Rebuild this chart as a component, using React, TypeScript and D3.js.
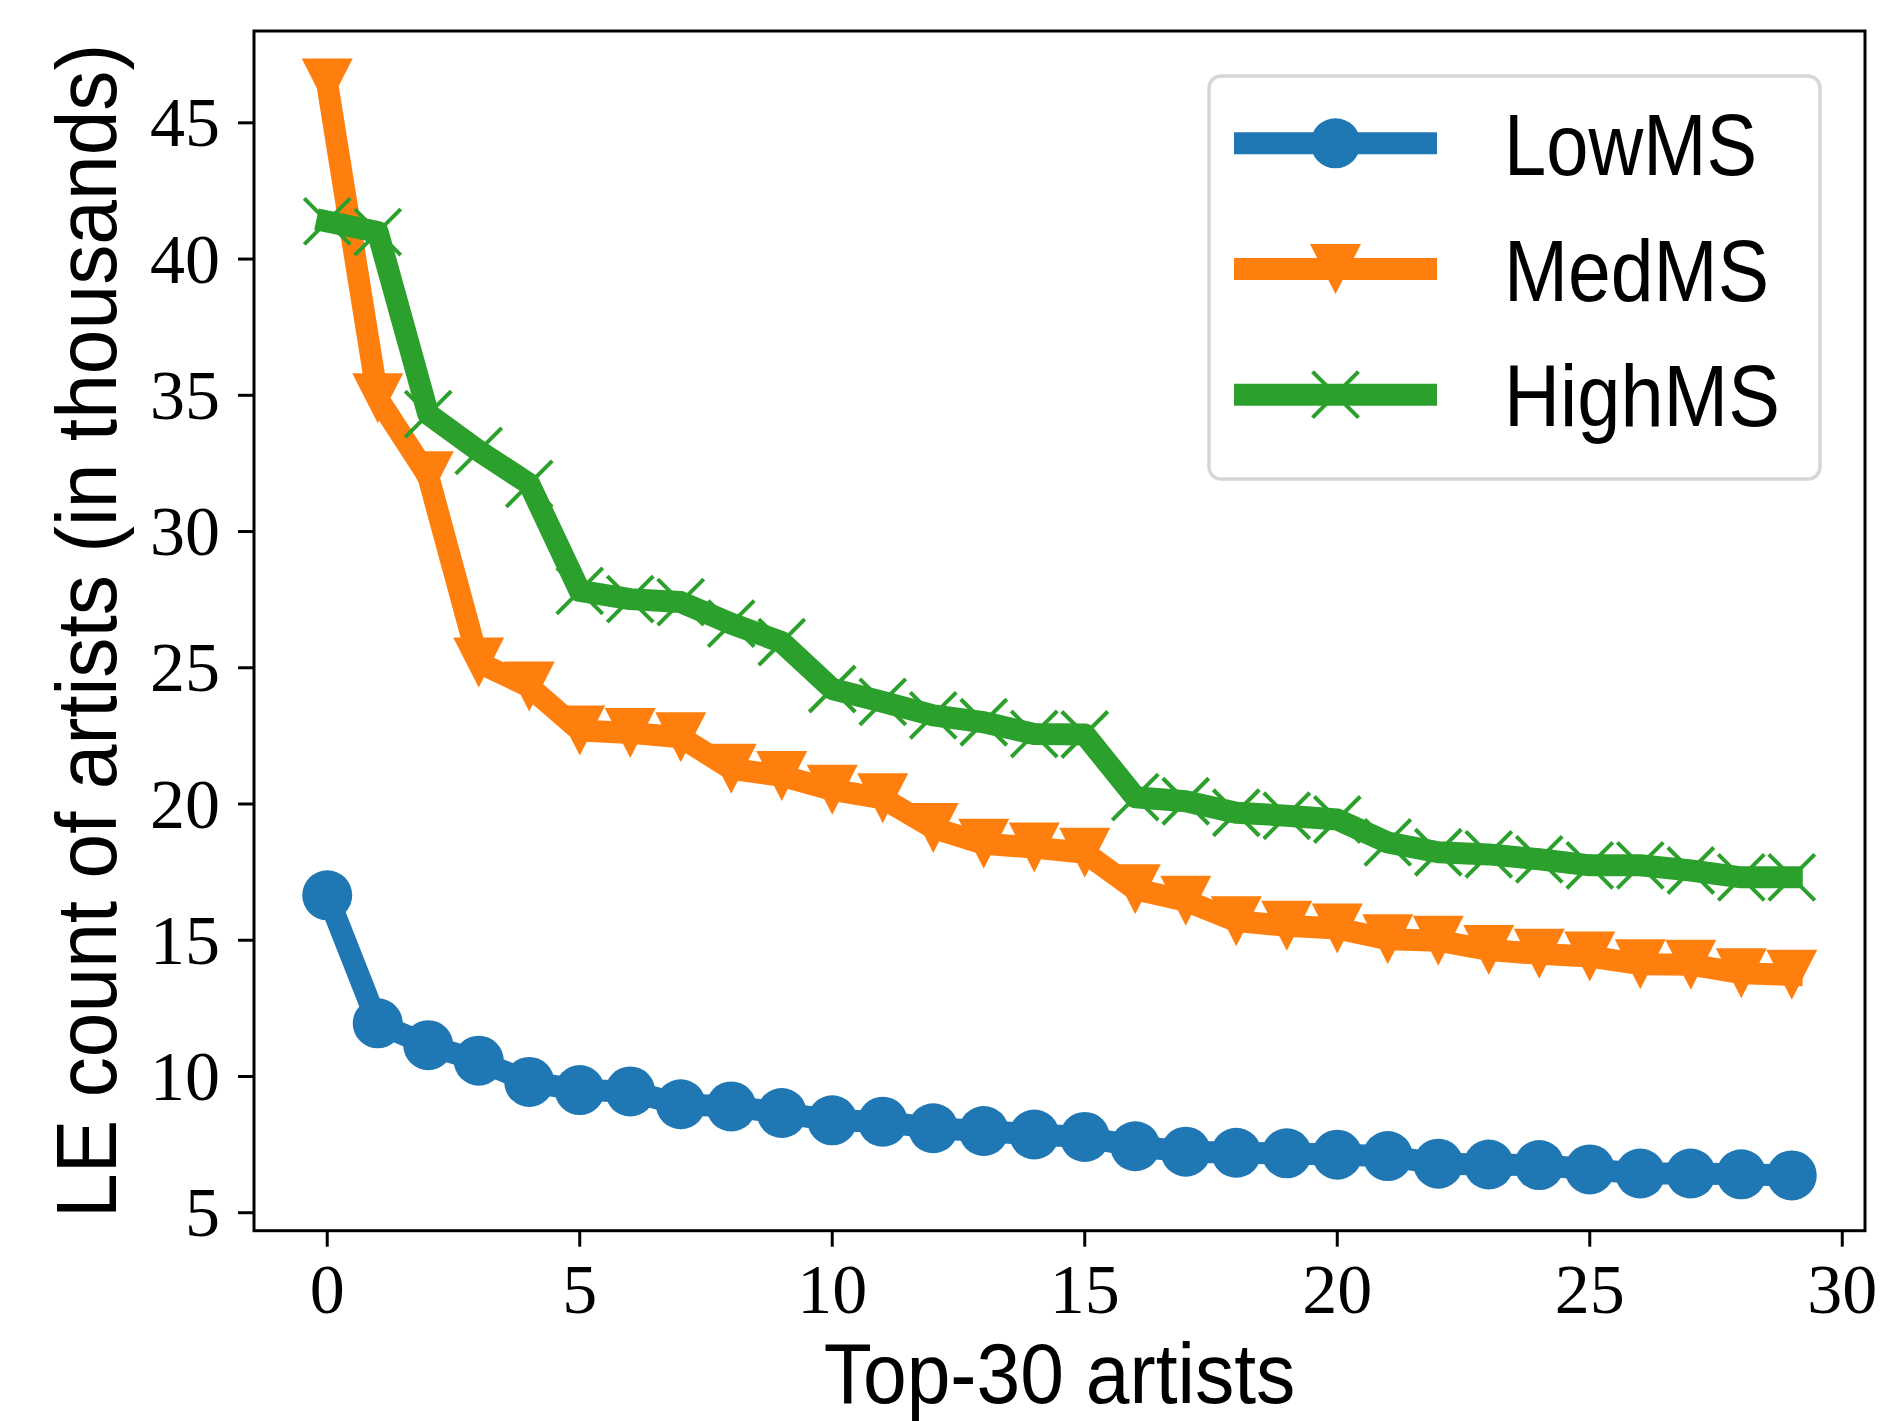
import React from "react";
import * as d3 from "d3";

const W = 1881;
const H = 1421;

const ranks = d3.range(30);
const lowMS = [16.65, 11.95, 11.15, 10.58, 9.8, 9.5, 9.45, 8.98, 8.9, 8.66, 8.39, 8.34, 8.1, 8.0, 7.87, 7.78, 7.44, 7.24, 7.2, 7.18, 7.13, 7.08, 6.8, 6.77, 6.75, 6.59, 6.44, 6.44, 6.41, 6.37];
const medMS = [46.44, 34.89, 32.03, 25.19, 24.31, 22.7, 22.61, 22.45, 21.29, 21.03, 20.52, 20.21, 19.12, 18.54, 18.4, 18.21, 16.87, 16.45, 15.7, 15.53, 15.43, 15.04, 14.98, 14.64, 14.5, 14.4, 14.12, 14.1, 13.79, 13.73];
const highMS = [41.38, 40.99, 34.31, 32.96, 31.75, 27.82, 27.52, 27.41, 26.62, 25.94, 24.22, 23.75, 23.25, 23.0, 22.57, 22.55, 20.25, 20.1, 19.68, 19.57, 19.43, 18.59, 18.23, 18.15, 17.97, 17.75, 17.75, 17.56, 17.31, 17.31];

const xTicks = [0, 5, 10, 15, 20, 25, 30];
const yTicks = [5, 10, 15, 20, 25, 30, 35, 40, 45];

const series = [
  { name: "LowMS", values: lowMS, color: "#1f77b4", marker: "o", labelLen: 253 },
  { name: "MedMS", values: medMS, color: "#ff7f0e", marker: "v", labelLen: 265 },
  { name: "HighMS", values: highMS, color: "#2ca02c", marker: "x", labelLen: 276 },
];

const AX = { left: 254, right: 1865, top: 31, bottom: 1230.7 };
const SANS = "'Liberation Sans', Arial, sans-serif";
const SERIF = "'Liberation Serif', 'Times New Roman', serif";

const Marker = ({ kind, x, y, color }) => {
  if (kind === "o") return <circle cx={x} cy={y} r={25} fill={color} />;
  if (kind === "v")
    return (
      <polygon
        points={`${x},${y + 25} ${x - 25.5},${y - 25} ${x + 25.5},${y - 25}`}
        fill={color}
      />
    );
  const a = 23;
  return (
    <g stroke={color} strokeWidth={4}>
      <line x1={x - a} y1={y - a} x2={x + a} y2={y + a} />
      <line x1={x - a} y1={y + a} x2={x + a} y2={y - a} />
    </g>
  );
};

export default function App() {
  const x = d3.scaleLinear().domain([-1.45, 30.45]).range([AX.left, AX.right]);
  const y = d3.scaleLinear().domain([4.34, 48.37]).range([AX.bottom, AX.top]);
  const line = d3
    .line<number>()
    .x((d, i) => x(ranks[i]))
    .y((d) => y(d));

  const legendX = 1209;
  const legendY = 76;
  const rowY = [143.3, 269, 394.7];

  return (
    <svg
      width={W}
      height={H}
      style={{ position: "absolute", left: 0, top: 0, background: "#fff" }}
    >
      <rect width={W} height={H} fill="#fff" />
      <defs>
        <clipPath id="plot">
          <rect x={AX.left} y={AX.top} width={AX.right - AX.left} height={AX.bottom - AX.top} />
        </clipPath>
      </defs>

      <g clipPath="url(#plot)">
        {series.map((s) => (
          <g key={s.name}>
            <path
              d={line(s.values) || ""}
              fill="none"
              stroke={s.color}
              strokeWidth={22}
              strokeLinejoin="round"
              strokeLinecap="square"
            />
            {s.values.map((v, i) => (
              <Marker key={i} kind={s.marker} x={x(ranks[i])} y={y(v)} color={s.color} />
            ))}
          </g>
        ))}
      </g>

      {/* frame */}
      <rect
        x={AX.left}
        y={AX.top}
        width={AX.right - AX.left}
        height={AX.bottom - AX.top}
        fill="none"
        stroke="#000"
        strokeWidth={3}
      />

      {/* y axis */}
      {yTicks.map((t) => (
        <g key={t}>
          <line x1={AX.left - 16} x2={AX.left} y1={y(t)} y2={y(t)} stroke="#000" strokeWidth={3} />
          <text
            x={220}
            y={y(t) + 23.5}
            textAnchor="end"
            fontFamily={SERIF}
            fontSize={70}
          >
            {t}
          </text>
        </g>
      ))}

      {/* x axis */}
      {xTicks.map((t) => (
        <g key={t}>
          <line x1={x(t)} x2={x(t)} y1={AX.bottom} y2={AX.bottom + 16} stroke="#000" strokeWidth={3} />
          <text
            x={x(t)}
            y={1313}
            textAnchor="middle"
            fontFamily={SERIF}
            fontSize={70}
          >
            {t}
          </text>
        </g>
      ))}

      {/* axis labels, squeezed horizontally to the reference's narrower face */}
      <text
        transform={`translate(${(AX.left + AX.right) / 2},1403) scale(0.914,1)`}
        textAnchor="middle"
        fontFamily={SANS}
        fontSize={86}
      >
        Top-30 artists
      </text>
      <text
        transform={`translate(116,${(AX.top + AX.bottom) / 2}) rotate(-90) scale(0.934,1)`}
        textAnchor="middle"
        fontFamily={SANS}
        fontSize={86}
      >
        LE count of artists (in thousands)
      </text>

      {/* legend */}
      <rect
        x={legendX}
        y={legendY}
        width={1820 - legendX}
        height={479 - legendY}
        rx={12}
        fill="#fff"
        fillOpacity={0.8}
        stroke="#d6d6d6"
        strokeWidth={3.5}
      />
      {series.map((s, i) => (
        <g key={s.name}>
          <line
            x1={1245}
            x2={1426}
            y1={rowY[i]}
            y2={rowY[i]}
            stroke={s.color}
            strokeWidth={22}
            strokeLinecap="square"
          />
          <Marker kind={s.marker} x={1335.5} y={rowY[i]} color={s.color} />
          <text
            x={1504}
            y={rowY[i] + 31.5}
            fontFamily={SANS}
            fontSize={87}
            textLength={s.labelLen}
            lengthAdjust="spacingAndGlyphs"
          >
            {s.name}
          </text>
        </g>
      ))}
    </svg>
  );
}
